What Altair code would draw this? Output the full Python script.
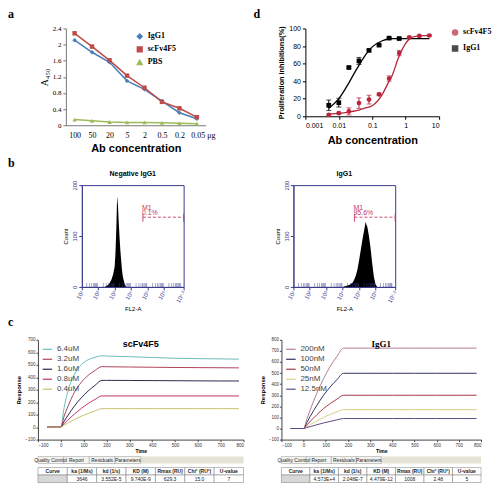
import altair as alt
import pandas as pd

SANS = "Liberation Sans"
SERIF = "Liberation Serif"
NAVY = "#3b3b8c"
GATE = "#c23a5e"

# ---------------- panel a : ELISA ----------------
a_conc = ["100", "50", "20", "5", "2", "0.5", "0.2", "0.05"]
a_igg1 = [2.11, 1.81, 1.56, 1.10, 0.89, 0.60, 0.31, 0.16]
a_scfv = [2.28, 1.95, 1.61, 1.23, 0.93, 0.58, 0.42, 0.20]
a_pbs = [0.14, 0.11, 0.08, 0.07, 0.07, 0.06, 0.05, 0.04]
a_series = ["IgG1", "scFv4F5", "PBS"]
a_yticks = [0, 0.4, 0.8, 1.2, 1.6, 2, 2.4]

# ---------------- panel d : proliferation inhibition ----------------
d_series = ["scFv4F5", "IgG1"]
d_scfv_conc = [0.005, 0.01, 0.02, 0.04, 0.08, 0.16, 0.32, 0.64, 1.28, 2.56, 5.12]
d_scfv = [1.5, 3.5, 5.5, 15, 19, 25, 43, 72, 90, 91.5, 92]
d_scfv_err = [1, 1, 4, 6, 5, 1.5, 3, 3, 1, 1, 1]
d_igg1_conc = [0.005, 0.01, 0.02, 0.04, 0.08, 0.16, 0.32, 0.64]
d_igg1 = [12.5, 15.5, 55.5, 63, 75, 81, 89, 88.5]
d_igg1_err = [6, 5, 1, 4, 1, 1, 1, 1]
d_curve_conc = [0.005, 0.01, 0.02, 0.03, 0.04, 0.063, 0.1, 0.2, 0.3, 0.4, 0.6, 1.0, 1.4, 2.0, 5.12]
d_curve_scfv = [2.5, 3.3, 4.8, 6, 7, 9.5, 12, 25, 38, 47, 66, 83, 89, 91, 92]
d_curve_igg1 = [9, 20, 38, 50, 58, 70, 79, 86, 88, 88.5, 88.5, 88.5, 88.5, 88.5, 88.5]
d_xticks = [0.001, 0.01, 0.1, 1, 10]
d_yticks = [0, 20, 40, 60, 80, 100]

# ---------------- panel b : flow cytometry ----------------
b_xticks = [1, 2, 3, 4, 5, 6, 7.2]
b_yticks = [0, 50, 100, 150, 200]
b1_exp = [2.4, 2.5, 2.6, 2.7, 2.8, 2.9, 3.0, 3.05, 3.1, 3.15, 3.2, 3.25, 3.3, 3.35, 3.4, 3.45, 3.5, 3.6, 3.7]
b1_count = [0, 2, 4, 8, 14, 24, 40, 68, 115, 178, 160, 125, 95, 70, 50, 32, 20, 6, 0]
b2_exp = [4.0, 4.2, 4.4, 4.6, 4.7, 4.8, 4.9, 5.0, 5.1, 5.2, 5.3, 5.4, 5.45, 5.5, 5.6, 5.7, 5.8, 5.9, 6.0, 6.1]
b2_count = [0, 2, 4, 8, 14, 22, 34, 52, 72, 92, 110, 128, 122, 118, 100, 76, 46, 20, 5, 0]
b_gate = [4.72, 7.2]
b_gate_level = 137
b_gate_tick = [128, 144]
b1_pct = "0.1%"
b2_pct = "95.6%"
b_minor = [1.301, 1.477, 1.602, 1.699, 1.778, 1.845, 1.903, 1.954,
           2.301, 2.477, 2.602, 2.699, 2.778, 2.845, 2.903, 2.954,
           3.301, 3.477, 3.602, 3.699, 3.778, 3.845, 3.903, 3.954,
           4.301, 4.477, 4.602, 4.699, 4.778, 4.845, 4.903, 4.954,
           5.301, 5.477, 5.602, 5.699, 5.778, 5.845, 5.903, 5.954,
           6.301, 6.477, 6.602, 6.699, 6.778, 6.845, 6.903, 6.954, 7.0]

# ---------------- panel c : SPR sensorgrams ----------------
c_time = [-60, 0, 15, 30, 60, 90, 120, 150, 180, 200, 300, 400, 500, 600, 700, 780]
c_xticks = [-100, 0, 100, 200, 300, 400, 500, 600, 700, 800]
c1_series = ["6.4uM", "3.2uM", "1.6uM", "0.8uM", "0.4uM"]
c1_colors = ["#6bbcbc", "#b0425a", "#2b2b4f", "#c2336a", "#c9c36a"]
c1_64 = [0, 0, 160, 280, 425, 500, 540, 560, 572, 570, 565, 558, 552, 549, 547, 545]
c1_32 = [0, 0, 90, 160, 280, 360, 415, 455, 485, 484, 482, 480, 478, 477, 476, 475]
c1_16 = [0, 0, 48, 90, 170, 235, 290, 335, 375, 375, 374, 373, 372, 371, 370, 370]
c1_08 = [0, 0, 28, 55, 105, 150, 190, 222, 250, 250, 250, 250, 250, 250, 250, 250]
c1_04 = [0, 0, 16, 32, 62, 88, 110, 130, 148, 148, 148, 148, 148, 148, 148, 148]
c1_yticks = [-100, 0, 100, 200, 300, 400, 500, 600, 700]

c2_series = ["200nM", "100nM", "50nM", "25nM", "12.5nM"]
c2_colors = ["#b57a9a", "#2f3360", "#a33a48", "#d8cf85", "#5a4a86"]
c2_200 = [0, 0, 88, 170, 320, 450, 560, 650, 725, 725, 725, 725, 725, 725, 725, 725]
c2_100 = [0, 0, 56, 110, 210, 300, 375, 440, 498, 498, 498, 498, 498, 498, 498, 498]
c2_50 = [0, 0, 33, 65, 125, 180, 225, 265, 300, 300, 300, 300, 300, 300, 300, 300]
c2_25 = [0, 0, 18, 35, 68, 100, 128, 150, 170, 170, 170, 170, 170, 170, 170, 170]
c2_125 = [0, 0, 9, 17, 34, 50, 64, 78, 90, 90, 90, 90, 90, 90, 90, 90]
c2_yticks = [-100, 0, 100, 200, 300, 400, 500, 600, 700, 800]

tabs = ["Quality Control", "Report", "Residuals", "Parameters"]
tab_slots = tabs + ["_1", "_2", "_3", "_4"]
t_cols = ["Curve", "ka (1/Ms)", "kd (1/s)", "KD (M)", "Rmax (RU)", "Chi² (RU²)", "U-value"]
c1_table = ["", "3646", "3.552E-5", "9.740E-9", "629.3", "15.0", "7"]
c2_table = ["", "4.573E+4", "2.048E-7", "4.479E-12", "1008", "2.48", "5"]

IND = dict(color="independent", shape="independent")


def letter(t, offset=2):
    return alt.TitleParams(text=t, anchor="start", font=SERIF, fontSize=12,
                           fontWeight="bold", color="black", offset=offset)


def spacer(w, h=1):
    return alt.Chart(pd.DataFrame({"v": [0]})).mark_point(opacity=0, size=1).properties(width=w, height=h)


# ======== panel a ========
df_a = pd.DataFrame({
    "conc": a_conc * 3,
    "series": [s for s in a_series for _ in a_conc],
    "value": a_igg1 + a_scfv + a_pbs,
})
leg_a = alt.Legend(title=None, orient="none", legendX=70, legendY=4, labelFont=SERIF,
                   labelFontSize=8, labelFontWeight="bold", labelColor="black",
                   symbolSize=22, rowPadding=1)
x_a = alt.X("conc:N", sort=a_conc, scale=alt.Scale(type="point", padding=0.5),
            axis=alt.Axis(title="Ab concentration", labelAngle=0, labelFont=SERIF,
                          labelFontSize=8, labelPadding=6, ticks=False,
                          titleFont=SANS, titleFontSize=11, titleFontWeight="bold",
                          titlePadding=3, domainColor="#777", labelOverlap=False,
                          labelOffset={"condition": {"test": "datum.value == '0.05'", "value": 6},
                                       "value": 0},
                          labelExpr="datum.value == '0.05' ? '0.05 μg' : datum.value"))
y_a = alt.Y("value:Q", scale=alt.Scale(domain=[0, 2.4]),
            axis=alt.Axis(values=a_yticks, format="~g", title="A₄₅₀", titleFont=SERIF,
                          titleFontSize=10, titleFontWeight="normal", labelFont=SERIF,
                          labelFontSize=7, tickSize=3, titlePadding=3, domainColor="#777",
                          tickColor="#777"))
col_a = alt.Color("series:N", scale=alt.Scale(domain=a_series, range=["#4a7ebb", "#be4b48", "#9bbb59"]),
                  legend=leg_a)
shape_a = alt.Shape("series:N", scale=alt.Scale(domain=a_series, range=["diamond", "square", "triangle-up"]),
                    legend=leg_a)
line_a = alt.Chart(df_a).mark_line(strokeWidth=1.5).encode(x=x_a, y=y_a, color=col_a)
pts_a = alt.Chart(df_a).mark_point(filled=True, size=20, opacity=1).encode(
    x=x_a, y=y_a, color=col_a, shape=shape_a)
panel_a = alt.layer(line_a, pts_a).properties(width=140, height=97)

# ======== panel d ========
df_d = pd.DataFrame({
    "conc": d_scfv_conc + d_igg1_conc,
    "series": ["scFv4F5"] * len(d_scfv_conc) + ["IgG1"] * len(d_igg1_conc),
    "value": d_scfv + d_igg1,
    "err": d_scfv_err + d_igg1_err,
})
df_d["lo"] = df_d["value"] - df_d["err"]
df_d["hi"] = df_d["value"] + df_d["err"]
df_dc = pd.DataFrame({
    "conc": d_curve_conc * 2,
    "series": ["scFv4F5"] * len(d_curve_conc) + ["IgG1"] * len(d_curve_conc),
    "value": d_curve_scfv + d_curve_igg1,
})
ax_dy = alt.Axis(values=d_yticks, title="Proliferation inhibitions(%)", titleFont=SANS,
                 titleFontSize=7.3, titleFontWeight="bold", labelFontSize=7, tickSize=3,
                 titlePadding=3)
x_d = alt.X("conc:Q", scale=alt.Scale(type="log", domain=[0.001, 10]),
            axis=alt.Axis(values=d_xticks, format="~g", title="Ab concentration", titleFont=SANS,
                          titleFontSize=11, titleFontWeight="bold", labelFontSize=7, tickSize=3,
                          titlePadding=6))
y_d = alt.Y("value:Q", scale=alt.Scale(domain=[0, 100]), axis=ax_dy)
leg_d = alt.Legend(title=None, orient="right", offset=12, labelFont=SERIF, labelFontSize=8,
                   labelFontWeight="bold", labelColor="black", symbolSize=25, rowPadding=4)
col_d = alt.Color("series:N", scale=alt.Scale(domain=d_series, range=["#b8263c", "#000000"]),
                  legend=leg_d)
shape_d = alt.Shape("series:N", scale=alt.Scale(domain=d_series, range=["circle", "square"]),
                    legend=leg_d)
curve_d = alt.Chart(df_dc).mark_line(strokeWidth=1.3, interpolate="monotone").encode(
    x=x_d, y=y_d, color=col_d)
err_d = alt.Chart(df_d).mark_errorbar(ticks=True, thickness=1).encode(
    x=x_d, y=alt.Y("lo:Q", scale=alt.Scale(domain=[0, 100]), axis=ax_dy), y2="hi:Q", color=col_d)
pts_d = alt.Chart(df_d).mark_point(filled=True, size=22, opacity=1).encode(
    x=x_d, y=y_d, color=col_d, shape=shape_d)
panel_d = alt.layer(curve_d, err_d, pts_d).properties(width=134, height=88)


# ======== panel b ========
def flow_panel(title, exps, counts, pct):
    df = pd.DataFrame({"e": exps, "n": counts})
    ax_x = alt.Axis(values=b_xticks, title="FL2-A", titleFontSize=6, titleFontWeight="normal",
                    titlePadding=2, labelFontSize=6, labelAngle=300, labelColor=NAVY,
                    domainColor=NAVY, tickColor=NAVY, tickSize=3, labelPadding=1,
                    labelOverlap=False, labelFlush=False,
                    labelExpr="datum.value == 7.2 ? '10⁷·²' : '10' + ['⁰','¹','²','³','⁴','⁵','⁶','⁷'][datum.value]")
    ax_y = alt.Axis(values=b_yticks, title="Count", titleFontSize=6, titleFontWeight="normal",
                    titlePadding=3, labelFontSize=6, labelAngle=270, labelColor=NAVY,
                    domainColor=NAVY, tickColor=NAVY, tickSize=3, labelPadding=1,
                    labelOverlap=False, labelFlush=False)
    sx = alt.Scale(domain=[1, 7.2], nice=False, zero=False)
    sy = alt.Scale(domain=[0, 200])
    xs = alt.X("e:Q", scale=sx, axis=ax_x)
    ys = alt.Y("n:Q", scale=sy, axis=ax_y)
    hist = alt.Chart(df).mark_area(color="black", interpolate="linear").encode(x=xs, y=ys)
    minor = alt.Chart(pd.DataFrame({"e": b_minor})).mark_tick(
        orient="vertical", size=4, thickness=0.6, color=NAVY, yOffset=-2).encode(
        x=xs, y=alt.datum(0))
    gdf = pd.DataFrame({"e": [b_gate[0]], "e2": [b_gate[1]], "n": [b_gate_level]})
    gate = alt.Chart(gdf).mark_rule(color=GATE, strokeDash=[3, 2], strokeWidth=0.9).encode(
        x=xs, x2="e2:Q", y=ys)
    tdf = pd.DataFrame({"e": b_gate, "lo": [b_gate_tick[0]] * 2, "hi": [b_gate_tick[1]] * 2})
    ends = alt.Chart(tdf).mark_rule(color=GATE, strokeWidth=0.9).encode(
        x=xs, y=alt.Y("lo:Q", scale=sy, axis=ax_y), y2="hi:Q")
    ldf = pd.DataFrame({"e": [b_gate[0], b_gate[0]], "n": [b_gate_level + 19, b_gate_level + 8],
                        "t": ["M1", pct]})
    labels = alt.Chart(ldf).mark_text(align="left", baseline="middle", fontSize=7, color=GATE,
                                      font=SANS, dx=-1).encode(x=xs, y=ys, text="t:N")
    return alt.layer(hist, minor, gate, ends, labels).properties(
        width=102, height=102,
        title=alt.TitleParams(title, fontSize=7, font=SANS, fontWeight="bold", offset=3),
        view=alt.ViewBackground(stroke=NAVY, strokeWidth=1))


b1 = flow_panel("Negative IgG1", b1_exp, b1_count, b1_pct)
b2 = flow_panel("IgG1", b2_exp, b2_count, b2_pct)


# ======== panel c ========
def spr_panel(title, tfont, series, colors, vals, yticks, w, h):
    rows = []
    for s, v in zip(series, vals):
        for t, r in zip(c_time, v):
            rows.append({"t": t, "r": r, "s": s})
    df = pd.DataFrame(rows)
    xs = alt.X("t:Q", scale=alt.Scale(domain=[-100, 800], nice=False),
               axis=alt.Axis(values=c_xticks, title="Time", titleFontSize=5, titleFontWeight="bold",
                             titlePadding=1, labelFontSize=4.5, tickSize=2, labelPadding=1,
                             domainColor="#444", tickColor="#444", labelColor="#333",
                             labelOverlap=False))
    ys = alt.Y("r:Q", scale=alt.Scale(domain=[yticks[0], yticks[-1]], nice=False),
               axis=alt.Axis(values=yticks, title="Response", titleFontSize=6, titleFontWeight="bold",
                             titlePadding=3, labelFontSize=4.5, tickSize=2, labelPadding=1,
                             domainColor="#444", tickColor="#444", labelColor="#333",
                             labelOverlap=False))
    col = alt.Color("s:N", scale=alt.Scale(domain=series, range=colors),
                    legend=alt.Legend(title=None, orient="top-left", offset=4, labelFontSize=8,
                                      labelFont=SANS, labelColor="#444", symbolType="stroke",
                                      symbolSize=90, symbolStrokeWidth=1.2, rowPadding=0, padding=0))
    line = alt.Chart(df).mark_line(strokeWidth=1, interpolate="monotone").encode(
        x=xs, y=ys, color=col, order="t:Q")
    return line.properties(width=w, height=h,
                           title=alt.TitleParams(title, fontSize=9, font=tfont, fontWeight="bold",
                                                 offset=-12))


def tab_strip(w):
    df = pd.DataFrame({"tab": tabs})
    base = alt.Chart(df).encode(
        x=alt.X("tab:N", scale=alt.Scale(domain=tab_slots, paddingInner=0, paddingOuter=0), axis=None))
    rect = base.mark_rect(fill="#f4f4f0", stroke="#999", strokeWidth=0.5)
    txt = base.mark_text(fontSize=5, font=SANS, color="#222").encode(text="tab:N")
    return alt.layer(rect, txt).properties(width=w, height=7,
                                           view=alt.ViewBackground(fill="#e4e4d6", stroke=None))


def table(vals, w):
    df = pd.DataFrame({"col": t_cols * 2, "row": ["h"] * len(t_cols) + ["v"] * len(t_cols),
                       "txt": t_cols + vals})
    base = alt.Chart(df).encode(
        x=alt.X("col:N", sort=t_cols, scale=alt.Scale(paddingInner=0, paddingOuter=0), axis=None),
        y=alt.Y("row:N", sort=["h", "v"], scale=alt.Scale(paddingInner=0, paddingOuter=0), axis=None))
    rect = base.mark_rect(stroke="#777", strokeWidth=0.5).encode(
        fill=alt.condition("datum.row == 'v' && datum.col == 'Curve'", alt.value("#d8d8d8"),
                           alt.value("#ffffff")))
    head = base.transform_filter("datum.row == 'h'").mark_text(
        fontSize=5, font=SANS, color="#222", fontWeight="bold").encode(text="txt:N")
    body = base.transform_filter("datum.row == 'v'").mark_text(
        fontSize=5, font=SANS, color="#222").encode(text="txt:N")
    return alt.layer(rect, head, body).properties(width=w, height=15)


c1 = spr_panel("scFv4F5", SANS, c1_series, c1_colors, [c1_64, c1_32, c1_16, c1_08, c1_04],
               c1_yticks, 206, 100)
c2 = spr_panel("IgG1", SERIF, c2_series, c2_colors, [c2_200, c2_100, c2_50, c2_25, c2_125],
               c2_yticks, 200, 100)
c1col = alt.vconcat(c1, tab_strip(206), table(c1_table, 206), spacing=2).resolve_scale(**IND)
c2col = alt.vconcat(c2, tab_strip(200), table(c2_table, 200), spacing=2).resolve_scale(**IND)

sub_a = alt.hconcat(spacer(31), panel_a, spacing=0, title=letter("a", offset=3)).resolve_scale(**IND)
sub_d = alt.hconcat(spacer(24), panel_d, spacing=0, title=letter("d", offset=3)).resolve_scale(**IND)
row1 = alt.hconcat(sub_a, sub_d, spacing=38).resolve_scale(**IND)
row2 = alt.hconcat(alt.hconcat(spacer(54), b1, spacing=0), b2, spacing=86, title=letter("b", offset=0))
sub_c = alt.hconcat(spacer(7), c1col, spacing=0).resolve_scale(**IND)
row3 = alt.hconcat(sub_c, c2col, spacing=14, title=letter("c", offset=8)).resolve_scale(**IND)

chart = alt.vconcat(row1, row2, row3, spacing=3).resolve_scale(**IND).properties(
    padding={"left": 0, "top": 0, "right": 0, "bottom": 0}
).configure(font=SANS).configure_view(stroke=None).configure_axis(
    grid=False, domainColor="black", tickColor="black", labelColor="black", titleColor="black",
    labelFont=SANS, titleFont=SANS
)

chart.save("out.html", embed_options={"renderer": "svg", "actions": False})
